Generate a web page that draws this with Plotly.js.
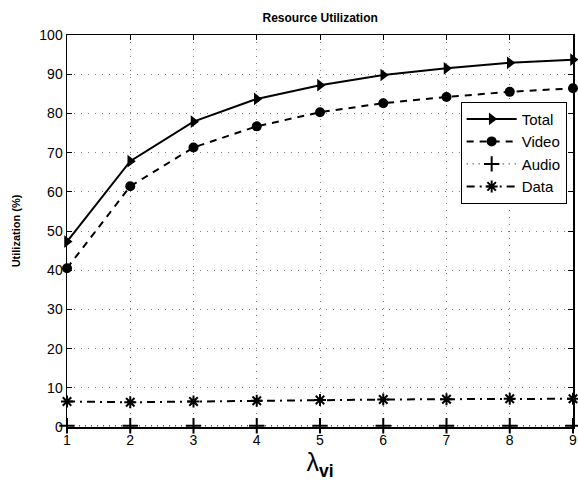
<!DOCTYPE html>
<html>
<head>
<meta charset="utf-8">
<script src="https://cdn.plot.ly/plotly-3.0.1.min.js"></script>
<style>html,body{margin:0;padding:0;background:#fff}#chart{width:578px;height:487px}</style>
</head>
<body>
<div id="chart"></div>
<script>
var lambdaVi = [1, 2, 3, 4, 5, 6, 7, 8, 9];
var totalUtil = [47.3, 67.8, 77.9, 83.7, 87.2, 89.8, 91.5, 92.9, 93.7];
var videoUtil = [40.5, 61.4, 71.3, 76.7, 80.3, 82.6, 84.2, 85.5, 86.4];
var audioUtil = [0.3, 0.3, 0.3, 0.3, 0.3, 0.3, 0.3, 0.3, 0.3];
var dataUtil  = [6.5, 6.3, 6.5, 6.7, 6.9, 7.0, 7.1, 7.2, 7.2];

var traces = [
  {x: lambdaVi, y: totalUtil, name: 'Total', mode: 'lines+markers',
   line: {color: '#000', width: 2, dash: 'solid'},
   marker: {symbol: 'triangle-right', size: 11, color: '#000'}, cliponaxis: false},
  {x: lambdaVi, y: videoUtil, name: 'Video', mode: 'lines+markers',
   line: {color: '#000', width: 2, dash: '7px,6px'},
   marker: {symbol: 'circle', size: 10, color: '#000'}, cliponaxis: false},
  {x: lambdaVi, y: audioUtil, name: 'Audio', mode: 'lines+markers',
   line: {color: '#000', width: 1, dash: '1px,5px'},
   marker: {symbol: 'cross-thin', size: 11, color: '#000', line: {color: '#000', width: 2}}, cliponaxis: false},
  {x: lambdaVi, y: dataUtil, name: 'Data', mode: 'lines+markers',
   line: {color: '#000', width: 2, dash: '8px,5px,2px,5px'},
   marker: {symbol: 'asterisk-open', size: 10, color: '#000', line: {color: '#000', width: 2}}, cliponaxis: false}
];

var axisCommon = {
  showline: true, linecolor: '#000', linewidth: 1.5, mirror: 'ticks',
  ticks: 'inside', ticklen: 5, tickcolor: '#000', tickwidth: 1,
  showgrid: true, gridcolor: '#808080', griddash: '1px,6px', gridwidth: 1,
  zeroline: false,
  tickfont: {family: 'Liberation Sans, Arial, sans-serif', size: 14, color: '#000'}
};

var layout = {
  width: 578, height: 487,
  margin: {l: 67, r: 5, t: 35, b: 60},
  paper_bgcolor: '#fff', plot_bgcolor: '#fff',
  font: {family: 'Liberation Sans, Arial, sans-serif', color: '#000'},
  title: {text: '<b>Resource Utilization</b>', font: {size: 12, color: '#000'},
          x: 0.5539, xanchor: 'center', y: 0.963, yanchor: 'middle'},
  xaxis: Object.assign({}, axisCommon, {
    range: [1, 9], tickvals: lambdaVi, ticktext: lambdaVi.map(String),
    title: {text: 'λ<sub><b>vi</b></sub>', font: {size: 25, color: '#000'}, standoff: 4}
  }),
  yaxis: Object.assign({}, axisCommon, {
    range: [0, 100], dtick: 10,
    title: {text: '<b>Utilization (%)</b>', font: {size: 11, color: '#000'}, standoff: 16}
  }),
  showlegend: true,
  legend: {
    x: 0.778, xanchor: 'left', y: 0.83, yanchor: 'top',
    bgcolor: '#fff', bordercolor: '#000', borderwidth: 1,
    font: {size: 15, color: '#000'}, tracegroupgap: 0, itemwidth: 50
  }
};

Plotly.newPlot('chart', traces, layout, {displayModeBar: false, staticPlot: true});
</script>
</body>
</html>
